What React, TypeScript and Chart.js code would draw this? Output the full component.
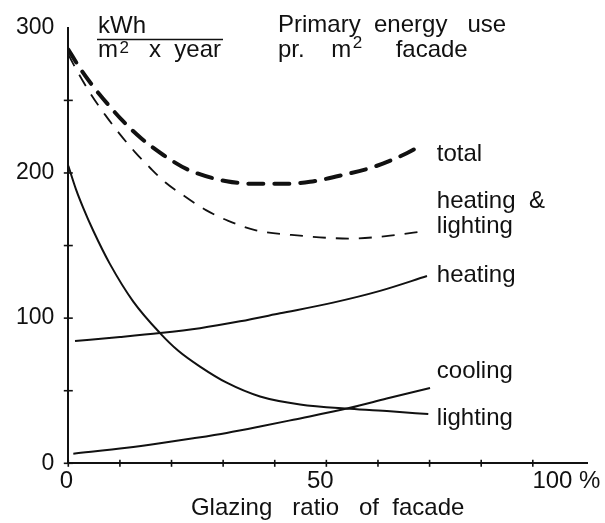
import React, { useEffect, useRef } from 'react';
import { Chart, registerables } from 'chart.js';

Chart.register(...registerables);

// ---- data ----
const totalX = [0, 2.27, 4.84, 8.08, 10.66, 14.22, 18.41, 23.25, 30.69, 36.81, 41.99, 46.83, 52.97, 59.43, 65.57, 68.48];
const totalY = [285, 272.1, 259.5, 245.6, 235.5, 223.6, 212.4, 202.2, 194.3, 192.5, 192.5, 193.9, 198.4, 204.5, 213.6, 219.2];

const heatLightX = [0, 1.63, 4.34, 7.25, 10.02, 12.92, 15.83, 18.83, 23.1, 26.68, 31.0, 36.37, 44.9, 54.58, 62.34, 69.12];
const heatLightY = [281.6, 270.7, 254.4, 239.5, 226.6, 214.4, 203.6, 193.4, 182.6, 174.4, 167.0, 160.5, 156.8, 154.8, 156.8, 160.0];

const heatingX = [1.3, 10.02, 17.77, 25.52, 33.27, 41.03, 51.29, 60.4, 69.5];
const heatingY = [84.3, 87.0, 89.7, 93.1, 97.8, 103.3, 110.7, 118.8, 129.0];

const coolingX = [0.97, 11.32, 17.77, 24.22, 30.69, 37.15, 43.6, 54.58, 61.69, 70.09];
const coolingY = [6.6, 10.7, 13.8, 17.2, 20.9, 25.3, 30.0, 38.2, 44.6, 51.9];

const lightingX = [0, 1.49, 2.91, 4.84, 8.08, 12.59, 17.77, 21.31, 25.52, 30.69, 37.15, 44.9, 54.58, 62.34, 69.75];
const lightingY = [205.0, 188.7, 175.8, 160.2, 137.2, 111.4, 89.7, 77.5, 66.6, 55.5, 46.0, 40.5, 37.5, 35.8, 33.9];

const seriesLabels = [['total'], ['heating  &', 'lighting'], ['heating'], ['cooling'], ['lighting']];

const yTickValues = [0, 50, 100, 150, 200, 250, 300];
const yLabelValues = [0, 100, 200, 300];
const xTickValues = [0, 10, 20, 30, 40, 50, 60, 70, 80, 90];
const xLabelValues = [0, 50, 100];
const xLabelTexts = ['0', '50', '100 %'];

const xTitle = 'Glazing   ratio   of  facade';
const unitTop = 'kWh';
const headerLine1 = 'Primary  energy   use';

// ---- styles ----
const INK = '#111';
const FONT = '"Liberation Sans", Arial, Helvetica, sans-serif';
const labelXValue = 71.4;
const labelDy = [15.5, -23.4, 5.6, -9.5, 10.6];
const labelLineHeight = 25;
const xLabelDx = [-2, -6, -18];

const pts = (xs: number[], ys: number[]) => xs.map((x, i) => ({ x, y: ys[i] }));

const annotate = {
  id: 'annotate',
  afterDraw(chart: any) {
    const ctx: CanvasRenderingContext2D = chart.ctx;
    const xs = chart.scales.x;
    const ys = chart.scales.y;
    const area = chart.chartArea;
    ctx.save();
    ctx.fillStyle = INK;
    ctx.strokeStyle = INK;

    // cross tick marks
    ctx.lineWidth = 1.6;
    xs.ticks.forEach((t: any) => {
      const px = xs.getPixelForValue(t.value);
      ctx.beginPath();
      ctx.moveTo(px, area.bottom - 3.5);
      ctx.lineTo(px, area.bottom + 3.5);
      ctx.stroke();
    });
    ys.ticks.forEach((t: any) => {
      if (t.value >= ys.max) return;
      const py = ys.getPixelForValue(t.value);
      ctx.beginPath();
      ctx.moveTo(area.left - 4.5, py);
      ctx.lineTo(area.left + 4.5, py);
      ctx.stroke();
    });

    // x tick labels
    ctx.font = `24px ${FONT}`;
    ctx.textAlign = 'center';
    ctx.textBaseline = 'alphabetic';
    xLabelValues.forEach((v, i) => {
      ctx.fillText(xLabelTexts[i], xs.getPixelForValue(v) + xLabelDx[i], area.bottom + 24.7);
    });

    // series labels at line ends
    ctx.textAlign = 'left';
    const lx = xs.getPixelForValue(labelXValue);
    chart.data.datasets.forEach((ds: any, i: number) => {
      const last = ds.data[ds.data.length - 1];
      const py = ys.getPixelForValue(last.y) + labelDy[i];
      seriesLabels[i].forEach((line, j) => ctx.fillText(line, lx, py + j * labelLineHeight));
    });

    // unit (fraction) top-left
    ctx.fillText(unitTop, 98, 33.3);
    ctx.lineWidth = 1.6;
    ctx.beginPath();
    ctx.moveTo(97, 39.5);
    ctx.lineTo(223, 39.5);
    ctx.stroke();
    let x = 98;
    ctx.fillText('m', x, 56.7);
    x += ctx.measureText('m').width + 1.5;
    ctx.font = `17px ${FONT}`;
    ctx.fillText('2', x, 53.3);
    x += ctx.measureText('2').width;
    ctx.font = `24px ${FONT}`;
    ctx.fillText('   x  year', x, 56.7);

    // header top-right
    ctx.fillText(headerLine1, 278, 31.7);
    let hx = 278;
    ctx.fillText('pr.    m', hx, 57);
    hx += ctx.measureText('pr.    m').width + 1.5;
    ctx.font = `17px ${FONT}`;
    ctx.fillText('2', hx, 48.3);
    hx += ctx.measureText('2').width;
    ctx.font = `24px ${FONT}`;
    ctx.fillText('     facade', hx, 57);

    ctx.restore();
  },
};

export default function App() {
  const ref = useRef<HTMLCanvasElement | null>(null);

  useEffect(() => {
    if (!ref.current) return;
    Chart.defaults.font.family = FONT;
    const common = { pointRadius: 0, fill: false, cubicInterpolationMode: 'monotone' as const, borderColor: INK };
    const chart = new Chart(ref.current, {
      type: 'line',
      data: {
        datasets: [
          { ...common, label: 'total', data: pts(totalX, totalY), borderWidth: 4, borderDash: [15, 11], borderCapStyle: 'round' },
          { ...common, label: 'heating & lighting', data: pts(heatLightX, heatLightY), borderWidth: 1.8, borderDash: [13, 10] },
          { ...common, label: 'heating', data: pts(heatingX, heatingY), borderWidth: 2 },
          { ...common, label: 'cooling', data: pts(coolingX, coolingY), borderWidth: 2 },
          { ...common, label: 'lighting', data: pts(lightingX, lightingY), borderWidth: 2 },
        ] as any,
      },
      options: {
        responsive: false,
        animation: false,
        devicePixelRatio: 1,
        layout: { padding: { top: 20.8, right: 18, bottom: 0, left: 0 } },
        plugins: { legend: { display: false }, tooltip: { enabled: false } },
        scales: {
          x: {
            type: 'linear',
            min: 0,
            max: 100.5,
            afterBuildTicks: (s: any) => { s.ticks = xTickValues.map((v) => ({ value: v })); },
            afterFit: (s: any) => { s.height = 59.7; },
            grid: { display: false, drawTicks: false },
            border: { display: true, color: INK, width: 2 },
            ticks: { display: false },
            title: { display: true, text: xTitle, color: INK, font: { size: 24, family: FONT }, padding: { top: 0, bottom: 0 } },
          },
          y: {
            type: 'linear',
            min: 0,
            max: 300,
            afterBuildTicks: (s: any) => { s.ticks = yTickValues.map((v) => ({ value: v })); },
            afterFit: (s: any) => { s.width = 68.3; },
            grid: { display: false, drawTicks: false },
            border: { display: true, color: INK, width: 2 },
            ticks: {
              color: INK,
              padding: 14,
              font: { size: 23, family: FONT },
              callback: (v: any) => (yLabelValues.includes(Number(v)) ? String(v) : ''),
            },
          },
        },
      },
      plugins: [annotate],
    });
    return () => chart.destroy();
  }, []);

  return (
    <div style={{ position: 'fixed', left: 0, top: 0, width: 605, height: 523, background: '#fff' }}>
      <canvas ref={ref} width={605} height={523} style={{ display: 'block' }} />
    </div>
  );
}
